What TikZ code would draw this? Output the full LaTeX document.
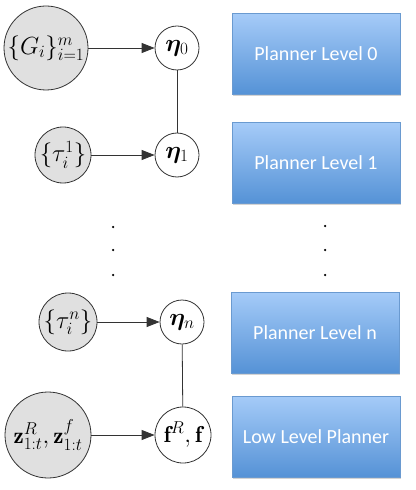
\documentclass[tikz,border=0pt]{standalone}
\usepackage{amsmath,bm}
\usepackage{fontspec}
\newfontfamily\carlito{Carlito}
\usetikzlibrary{arrows.meta,shadows}
\definecolor{boxtop}{HTML}{A5CBF8}
\definecolor{boxbot}{HTML}{5592D6}
\definecolor{boxline}{HTML}{6A9AD0}
\definecolor{obsfill}{HTML}{E0E0E0}
\begin{document}
\begin{tikzpicture}[x=1bp,y=-1bp,
  mathfont/.style={font=\fontsize{23bp}{27bp}\selectfont},
  obs/.style={circle,draw=black!80,fill=obsfill,line width=0.8bp,inner sep=0pt,mathfont},
  lat/.style={circle,draw=black!80,fill=white,line width=0.8bp,inner sep=0pt,mathfont},
  planbox/.style={rectangle,draw=boxline,line width=0.6bp,top color=boxtop,bottom color=boxbot,
    minimum width=168bp,minimum height=81bp,text=white,
    font=\carlito\fontsize{20bp}{24bp}\selectfont,
    drop shadow={shadow xshift=1bp,shadow yshift=-1.5bp,opacity=0.35}},
  link/.style={line width=0.8bp,draw=black!80},
  arr/.style={link,-{Triangle[length=13bp,width=10bp]}},
  dotnode/.style={circle,fill=black,inner sep=0pt,minimum size=2.5bp}]
\path[use as bounding box] (0,0) rectangle (415,490);
% graph nodes
\node[obs,minimum size=84bp] (G) at (46,48) {\makebox[0pt]{$\{G_i\}_{i=1}^m$}};
\node[lat,minimum size=44bp] (e0) at (177,48) {\makebox[0pt]{$\boldsymbol{\eta}_0$}};
\node[obs,minimum size=56bp] (t1) at (63,155) {\makebox[0pt]{$\{\tau_i^1\}$}};
\node[lat,minimum size=44bp] (e1) at (177,155) {\makebox[0pt]{$\boldsymbol{\eta}_1$}};
\node[obs,minimum size=58bp] (tn) at (68,322) {\makebox[0pt]{$\{\tau_i^n\}$}};
\node[lat,minimum size=44bp] (en) at (182,322) {\makebox[0pt]{$\boldsymbol{\eta}_n$}};
\node[obs,minimum size=86bp] (z) at (48,435) {\makebox[0pt]{$\mathbf{z}_{1:t}^R,\mathbf{z}_{1:t}^f$}};
\node[lat,minimum size=56bp] (f) at (183,435) {\makebox[0pt]{$\mathbf{f}^R,\mathbf{f}$}};
% connectors
\draw[arr] (G) -- (e0);
\draw[arr] (t1) -- (e1);
\draw[arr] (tn) -- (en);
\draw[arr] (z) -- (f);
\draw[link] (e0) -- (e1);
\draw[link] (en) -- (f);
% dots
\node[dotnode] (dl1) at (113,227) {};
\node[dotnode] (dl2) at (113,250) {};
\node[dotnode] (dl3) at (113,275) {};
\node[dotnode] (dr1) at (325,226) {};
\node[dotnode] (dr2) at (325,250) {};
\node[dotnode] (dr3) at (325,275) {};
% planner boxes
\node[planbox] (p0) at (316,54) {Planner Level 0};
\node[planbox] (p1) at (316,163) {Planner Level 1};
\node[planbox] (pn) at (315,332.5) {Planner Level n};
\node[planbox] (pl) at (316,436.5) {Low Level Planner};
\end{tikzpicture}
\end{document}
